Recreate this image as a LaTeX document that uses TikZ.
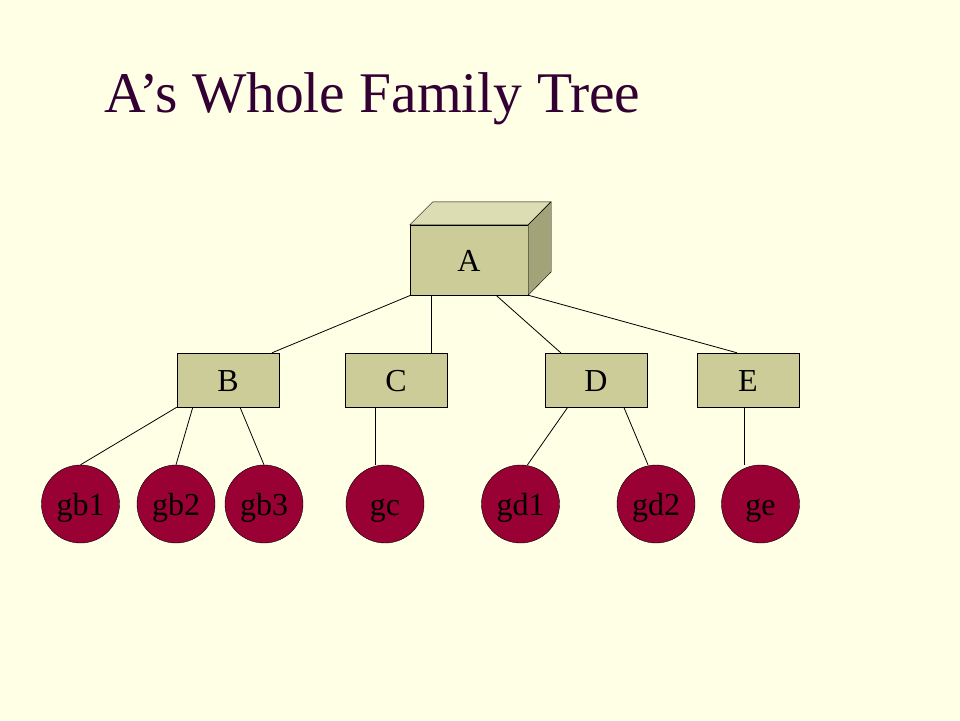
\documentclass[tikz,border=0pt]{standalone}
\usepackage{fontspec}
\setmainfont{Liberation Serif}
\definecolor{slidebg}{HTML}{FFFFE5}
\definecolor{titlecol}{HTML}{330033}
\definecolor{boxfill}{HTML}{CCCC99}
\definecolor{boxtop}{HTML}{DDDDB4}
\definecolor{boxside}{HTML}{A3A37A}
\definecolor{kidfill}{HTML}{990033}
\begin{document}
\begin{tikzpicture}[x=1pt,y=-1pt,
		box/.style={draw,fill=boxfill,minimum width=102pt,minimum height=54pt,inner sep=0pt,text height=22pt,text depth=0pt,font=\fontsize{32}{32}\selectfont},
		kid/.style={circle,draw,fill=kidfill,minimum size=78pt,inner sep=0pt,text height=22pt,text depth=0pt,font=\fontsize{32}{32}\selectfont},
		link/.style={line width=.8pt}]
		\fill[slidebg] (0,0) rectangle (960,720);
		\node[anchor=base west,text=titlecol,font=\fontsize{57.5}{57.5}\selectfont,inner sep=0pt] (title) at (104,112) {A’s Whole Family Tree};
		
		% the boxed root
		\node[box,minimum width=118pt,minimum height=70pt] (A) at (469,260) {A};
		\draw[fill=boxtop] (A.north west) -- ++(23,-23) -- ++(118,0) -- (A.north east) -- cycle;
		\draw[fill=boxside] (A.north east) -- ++(23,-23) -- ++(0,70) -- (A.south east) -- cycle;
		
		\node[box] (B) at (228,380) {B};
		\node[box] (C) at (396,380) {C};
		\node[box] (D) at (596,380) {D};
		\node[box] (E) at (748,380) {E};
		
		\node[kid] (gb1) at (80.5,504) {gb1};
		\node[kid] (gb2) at (176,504) {gb2};
		\node[kid] (gb3) at (264,504) {gb3};
		\node[kid] (gc) at (385,504) {gc};
		\node[kid] (gd1) at (520.5,504) {gd1};
		\node[kid] (gd2) at (656,504) {gd2};
		\node[kid] (ge) at (760.5,504) {ge};
		
		% links
		\draw[link] ([xshift=1pt]A.south west) -- ([xshift=44pt]B.north);
		\draw[link] ([xshift=22pt]A.south west) -- ([xshift=22pt]A.south west |- C.north);
		\draw[link] ([xshift=27pt]A.south) -- ([xshift=16pt]D.north west);
		\draw[link] (A.south east) -- ([xshift=-11pt]E.north);
		\draw[link] (B.south west) -- (gb1.north);
		\draw[link] ([xshift=16pt]B.south west) -- (gb2.north);
		\draw[link] ([xshift=12pt]B.south) -- (gb3.north);
		\draw[link] ([xshift=31pt]C.south west) -- ([xshift=31pt]C.south west |- gc.north);
		\draw[link] ([xshift=23pt]D.south west) -- ([xshift=7pt]gd1.north);
		\draw[link] ([xshift=79pt]D.south west) -- ([xshift=-8pt]gd2.north);
		\draw[link] ([xshift=-4pt]E.south) -- ([xshift=-4pt]E.south |- ge.north);
\end{tikzpicture}
\end{document}
